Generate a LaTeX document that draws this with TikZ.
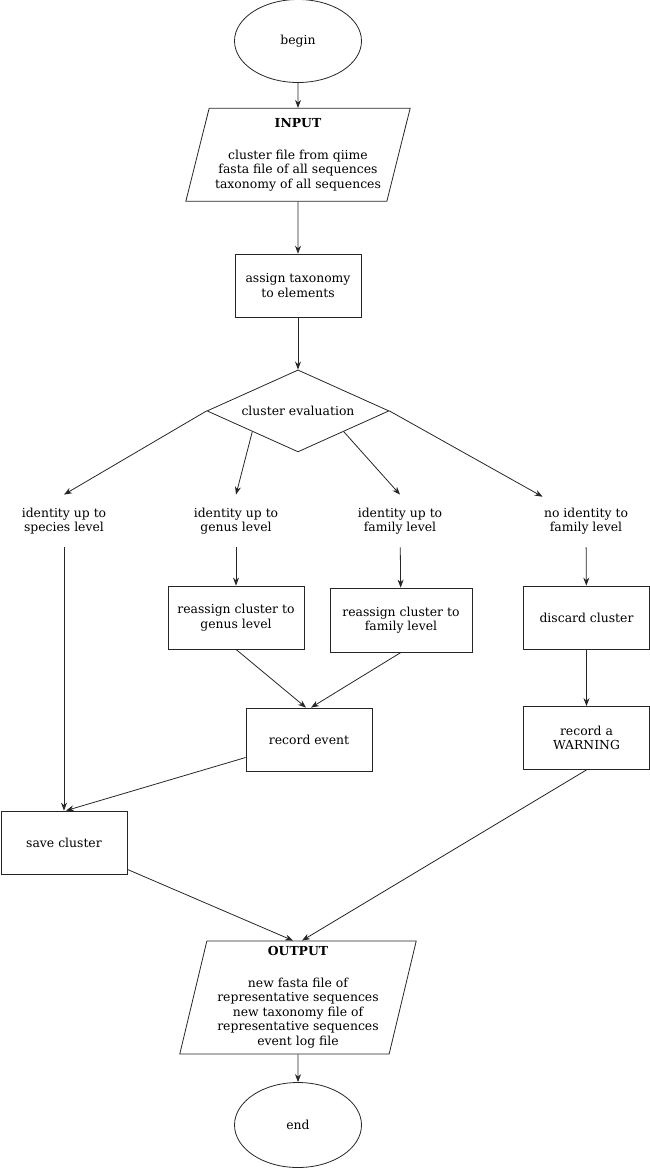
\documentclass[tikz,border=0pt]{standalone}
\usepackage{fontspec}
\setmainfont{DejaVu Serif}
\usetikzlibrary{shapes.geometric,positioning,arrows.meta}

\begin{document}
\begin{tikzpicture}[x=1pt, y=-1pt, >={Stealth[length=8pt,width=6pt]},
    line width=0.8pt, draw=black!85,
    font=\fontsize{12.4pt}{14.5pt}\selectfont,
    box/.style={draw=black!85, rectangle, minimum width=126pt, minimum height=63pt, align=center, inner sep=2pt},
    io/.style={draw=black!85, trapezium, trapezium left angle=74, trapezium right angle=106,
        trapezium stretches=true, minimum width=225pt, minimum height=93pt, align=center},
    term/.style={draw=black!85, ellipse, minimum width=127pt, minimum height=83pt},
    decision/.style={draw=black!85, diamond, shape aspect=2.2, minimum width=182pt, minimum height=82pt, inner sep=0pt},
    lbl/.style={minimum width=86pt, minimum height=52pt, align=center, inner sep=0pt}]
    \useasboundingbox (0,0) rectangle (650,1168);

    % main column
    \node[term] (begin) at (298,41) {begin};
    \node[io, below=25pt of begin] (input) {\textbf{INPUT}\\[17pt]cluster file from qiime\\fasta file of all sequences\\taxonomy of all sequences};
    \node[box, below=52pt of input] (assign) {assign taxonomy\\to elements};
    \node[decision, below=52pt of assign] (eval) {cluster evaluation};

    % branches
    \node[lbl] (spec) at (64,521) {identity up to\\species level};
    \node[lbl] (genus) at (236,521) {identity up to\\genus level};
    \node[lbl] (family) at (400,521) {identity up to\\family level};
    \node[lbl] (noid) at (586,521) {no identity to\\family level};

    \node[box, minimum width=136pt] (regenus) at (236,617.5) {reassign cluster to\\genus level};
    \node[box, minimum width=142pt, minimum height=64pt] (refamily) at (401,620) {reassign cluster to\\family level};
    \node[box] (discard) at (586.5,617.5) {discard cluster};
    \node[box] (event) at (309,739.5) {record event};
    \node[box] (warn) at (586.5,738) {record a\\WARNING};
    \node[box] (save) at (64,842.5) {save cluster};

    \node[io, minimum width=237pt, minimum height=113pt, trapezium left angle=77, trapezium right angle=103] (output) at (298,997.5)
        {\textbf{OUTPUT}\\[17pt]new fasta file of\\representative sequences\\new taxonomy file of\\representative sequences\\event log file};
    \node[term, minimum height=85pt] (end) at (298,1125) {end};

    \draw[->] (begin) -- (input);
    \draw[->] (input) -- (assign);
    \draw[->] (assign) -- (eval);
    \draw[->] (eval.west) -- (spec.north);
    \draw[->] (eval.south west) -- (genus.north);
    \draw[->] (eval.south east) -- (family.north);
    \draw[->] (eval.east) -- (noid);

    \draw[->] (spec.south) -- (save.north);
    \draw[->] (genus) -- (regenus);
    \draw[->] (family) -- (refamily);
    \draw[->] (noid) -- (discard);

    \draw[->] (regenus.south) -- ([xshift=-3pt]event.north);
    \draw[->] (refamily.south) -- ([xshift=2pt]event.north);
    \draw[->] (discard) -- (warn);
    \draw[->] ([yshift=-18pt]event.west) -- ([xshift=2pt]save.north);

    \draw[->] ([yshift=5pt]save.south east) -- ([xshift=-5pt]output.north);
    \draw[->] (warn.south) -- ([xshift=4pt]output.north);
    \draw[->] (output) -- (end);
\end{tikzpicture}
\end{document}
